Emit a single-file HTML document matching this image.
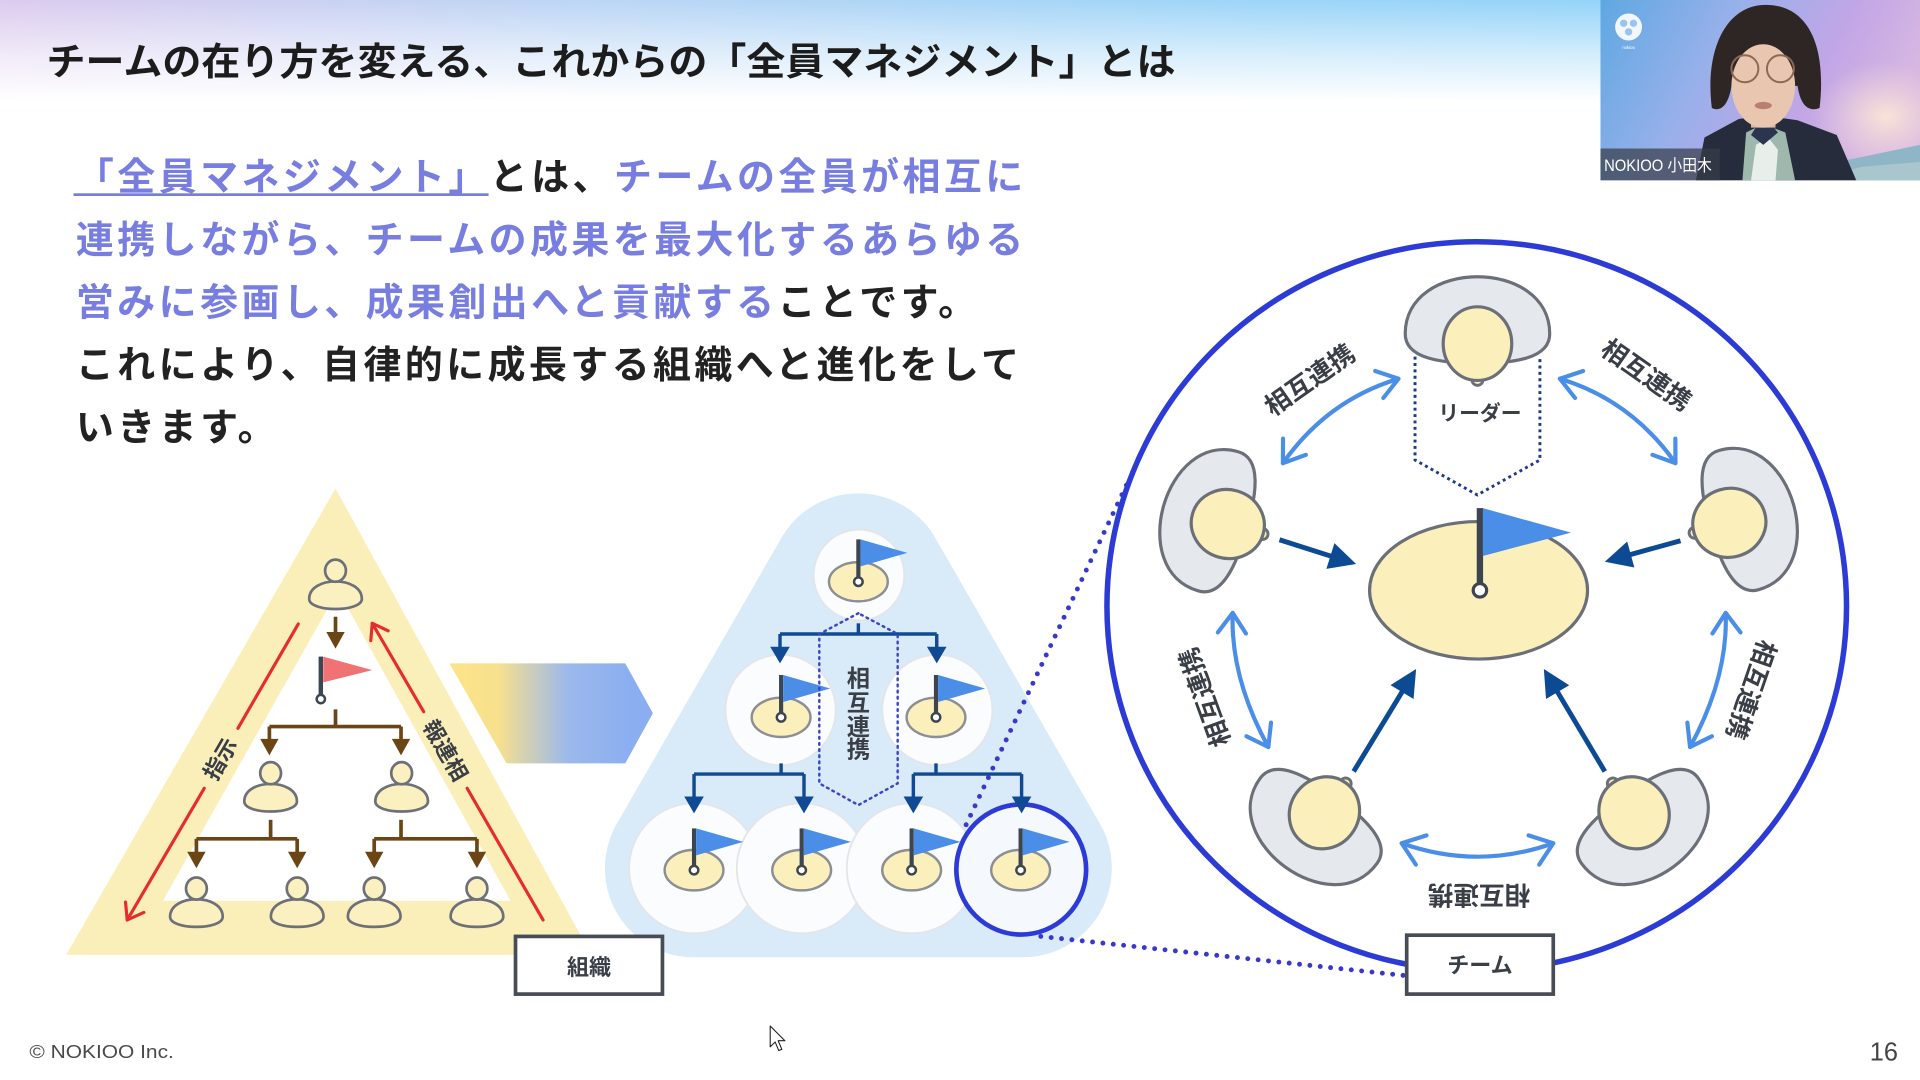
<!DOCTYPE html>
<html><head><meta charset="utf-8">
<style>
html,body{margin:0;padding:0;background:#fff;overflow:hidden;width:1920px;height:1080px}
svg{display:block}
text{font-family:"Liberation Sans","Noto Sans CJK JP",sans-serif}
</style></head>
<body>
<svg xmlns="http://www.w3.org/2000/svg" width="1920" height="1080" viewBox="0 0 1568 880" preserveAspectRatio="none">
<defs>
<linearGradient id="topH" x1="0" y1="0" x2="1" y2="0">
<stop offset="0" stop-color="#dccbee"/><stop offset="0.3" stop-color="#bcd6f5"/><stop offset="0.65" stop-color="#9dd5f8"/><stop offset="1" stop-color="#8cd2f9"/>
</linearGradient>
<linearGradient id="topV" x1="0" y1="0" x2="0" y2="1">
<stop offset="0" stop-color="#fff" stop-opacity="0"/><stop offset="0.5" stop-color="#fff" stop-opacity="0.6"/><stop offset="0.92" stop-color="#fff" stop-opacity="1"/>
</linearGradient>
<linearGradient id="ag" gradientUnits="userSpaceOnUse" x1="380" y1="0" x2="515" y2="0">
<stop offset="0" stop-color="#fbe38a"/><stop offset="0.2" stop-color="#f7e08e"/><stop offset="0.62" stop-color="#9cb9ec"/><stop offset="1" stop-color="#8aaef0"/>
</linearGradient>
<linearGradient id="vbg" x1="0" y1="0" x2="1" y2="0.3">
<stop offset="0" stop-color="#5ea8e2"/><stop offset="0.4" stop-color="#98b0ea"/><stop offset="0.75" stop-color="#c2a6e6"/><stop offset="1" stop-color="#d6b6e2"/>
</linearGradient>
<radialGradient id="glow" cx="0.5" cy="0.5" r="0.5">
<stop offset="0" stop-color="#fbe6d6" stop-opacity="0.95"/><stop offset="1" stop-color="#f2d6dc" stop-opacity="0"/>
</radialGradient>
<clipPath id="vc"><rect x="1307" y="0" width="261" height="147"/></clipPath>
<g id="tp">
<path d="M -59,-8 C -59,-70 59,-70 59,-8 C 59,12 30,16 0,16 C -30,16 -59,12 -59,-8 Z" fill="#e5e8ed" stroke="#6b6f78" stroke-width="2.6"/>
<circle cx="0" cy="29.5" r="4.5" fill="#fbf0bb" stroke="#6b6f78" stroke-width="2.4"/>
<ellipse cx="0" cy="0" rx="28" ry="30" fill="#fbf0bb" stroke="#6b6f78" stroke-width="2.6"/>
</g>
<g id="op">
<path d="M -21.5,3 C -21.5,-16 21.5,-16 21.5,3 C 21.5,14 -21.5,14 -21.5,3 Z" fill="#fbf0bf" stroke="#6d7079" stroke-width="2.2"/>
<ellipse cx="0" cy="-20" rx="8.5" ry="9" fill="#fbf0bf" stroke="#6d7079" stroke-width="2.2"/>
</g>
</defs>

<!-- background -->
<rect x="0" y="0" width="1568" height="880" fill="#ffffff"/>
<rect x="0" y="0" width="1568" height="90" fill="url(#topH)"/>
<rect x="0" y="0" width="1568" height="90" fill="url(#topV)"/>

<!-- title -->
<text x="38" y="61" font-size="31" font-weight="700" fill="#1c1c1c" textLength="922" lengthAdjust="spacingAndGlyphs">チームの在り方を変える、これからの「全員マネジメント」とは</text>

<!-- video -->
<g clip-path="url(#vc)">
<rect x="1307" y="0" width="261" height="147" fill="url(#vbg)"/>
<ellipse cx="1540" cy="95" rx="60" ry="45" fill="url(#glow)"/>
<path d="M1460,147 L1500,132 L1530,126 L1568,118 L1568,147 Z" fill="#8fb6c6"/>
<path d="M1480,147 L1520,136 L1568,132 L1568,147 Z" fill="#a9c6cf"/>
<path d="M1385,147 L1392,112 L1420,97 L1440,94 L1468,98 L1500,110 L1516,147 Z" fill="#262c3c"/>
<path d="M1423,147 L1426,108 L1440,101 L1458,108 L1466,147 Z" fill="#9fb8ae"/>
<path d="M1430,147 L1434,118 L1444,112 L1452,122 L1450,147 Z" fill="#e8eeea"/>
<path d="M1440,94 L1430,110 L1440,118 L1452,108 Z" fill="#2b3550"/>
<path d="M1398,88 C1392,40 1410,4 1442,4 C1476,4 1492,36 1486,88 C1476,92 1470,84 1468,70 L1414,70 C1412,84 1406,92 1398,88 Z" fill="#2e2624"/>
<rect x="1430" y="88" width="20" height="16" fill="#dcb49c"/>
<ellipse cx="1440" cy="70" rx="26" ry="34" fill="#e8c6af"/>
<path d="M1410,52 C1414,24 1466,24 1472,52 C1460,40 1450,36 1440,36 C1428,36 1418,42 1410,52 Z" fill="#2e2624"/>
<circle cx="1425" cy="56" r="11" fill="none" stroke="#8a6a55" stroke-width="1.6"/>
<circle cx="1454" cy="56" r="11" fill="none" stroke="#8a6a55" stroke-width="1.6"/>
<ellipse cx="1440" cy="86" rx="7" ry="3" fill="#b9806f"/>
<circle cx="1330" cy="22" r="11" fill="#ffffff" opacity="0.9"/>
<circle cx="1326" cy="19" r="3" fill="#9ac4ea"/><circle cx="1334" cy="19" r="3" fill="#9ac4ea"/><circle cx="1330" cy="26" r="3" fill="#9ac4ea"/>
<text x="1330" y="40" font-size="3.5" fill="#ffffff" text-anchor="middle">nokioo</text>
<rect x="1307" y="121" width="97.5" height="26" fill="#383d48" opacity="0.72"/>
<text x="1310" y="139.5" font-size="13.5" fill="#ffffff" textLength="88" lengthAdjust="spacingAndGlyphs">NOKIOO 小田木</text>
</g>

<!-- paragraph -->
<g font-size="31" font-weight="700" letter-spacing="2.8">
<text x="62" y="155"><tspan fill="#777ee0">「全員マネジメント」</tspan><tspan fill="#222">とは、</tspan><tspan fill="#777ee0">チームの全員が相互に</tspan></text>
<text x="62" y="206" fill="#777ee0">連携しながら、チームの成果を最大化するあらゆる</text>
<text x="62" y="257"><tspan fill="#777ee0">営みに参画し、成果創出へと貢献する</tspan><tspan fill="#222">ことです。</tspan></text>
<text x="62" y="308" fill="#222">これにより、自律的に成長する組織へと進化をして</text>
<text x="62" y="359" fill="#222">いきます。</text>
</g>
<rect x="60" y="157.5" width="339" height="2.2" fill="#777ee0"/>

<!-- left pyramid -->
<polygon points="274,398 54,778 483,778" fill="#fbefb9"/>
<polygon points="276,481 133,734 417,734" fill="#ffffff"/>
<g stroke="#6b4513" stroke-width="3" fill="none">
<line x1="274" y1="502.5" x2="274" y2="516"/>
<line x1="274" y1="578" x2="274" y2="592"/>
<line x1="220" y1="592" x2="327.5" y2="592"/>
<line x1="220" y1="592" x2="220" y2="603"/>
<line x1="327.5" y1="592" x2="327.5" y2="603"/>
<line x1="221" y1="668" x2="221" y2="683.5"/>
<line x1="160.4" y1="683.5" x2="242.7" y2="683.5"/>
<line x1="160.4" y1="683.5" x2="160.4" y2="695"/>
<line x1="242.7" y1="683.5" x2="242.7" y2="695"/>
<line x1="327.5" y1="668" x2="327.5" y2="683.5"/>
<line x1="305.6" y1="683.5" x2="389.5" y2="683.5"/>
<line x1="305.6" y1="683.5" x2="305.6" y2="695"/>
<line x1="389.5" y1="683.5" x2="389.5" y2="695"/>
</g>
<g fill="#6b4513">
<polygon points="266.5,515 281.5,515 274,528.5"/>
<polygon points="212.5,602 227.5,602 220,615.5"/>
<polygon points="320,602 335,602 327.5,615.5"/>
<polygon points="152.9,694 167.9,694 160.4,707.5"/>
<polygon points="235.2,694 250.2,694 242.7,707.5"/>
<polygon points="298.1,694 313.1,694 305.6,707.5"/>
<polygon points="382,694 397,694 389.5,707.5"/>
</g>
<!-- red flag -->
<rect x="260.2" y="535" width="3.6" height="31" fill="#3d4550"/>
<polygon points="264,535 304,546 264,556" fill="#f07272"/>
<circle cx="262" cy="569.6" r="3.4" fill="#fff" stroke="#3d4550" stroke-width="2"/>
<!-- people -->
<use href="#op" transform="translate(274,485)"/>
<use href="#op" transform="translate(221,650)"/>
<use href="#op" transform="translate(328,650)"/>
<use href="#op" transform="translate(160.4,744)"/>
<use href="#op" transform="translate(242.7,744)"/>
<use href="#op" transform="translate(305.6,744)"/>
<use href="#op" transform="translate(389.5,744)"/>
<!-- red arrows -->
<g stroke="#e52d2d" stroke-width="2.6" fill="none" stroke-linecap="round" stroke-linejoin="round">
<line x1="243.6" y1="508.4" x2="194.3" y2="593.4"/>
<line x1="166.8" y1="642.3" x2="103.9" y2="749.6"/>
<polyline points="117.5,743.5 103.9,749.6 102.5,735"/>
<line x1="443.5" y1="749.6" x2="381.5" y2="642.3"/>
<line x1="346" y1="579.9" x2="304" y2="507.9"/>
<polyline points="302.8,522 304,507.9 317,514"/>
</g>
<text font-size="18" font-weight="700" fill="#3a3f47" text-anchor="middle" transform="translate(180,618.5) rotate(-60)" y="6.3">指示</text>
<text font-size="18" font-weight="700" fill="#3a3f47" text-anchor="middle" transform="translate(363.7,611.5) rotate(60)" y="6.3">報連相</text>

<!-- gradient arrow -->
<polygon points="367,540.5 510.6,540.5 533.2,581.2 510.6,622 413.7,622" fill="url(#ag)"/>

<!-- middle pyramid -->
<polygon points="701,474.5 566.5,707.5 835.5,707.5" fill="#d9eaf8" stroke="#d9eaf8" stroke-width="145" stroke-linejoin="round"/>
<g fill="#fbfcfe" stroke="#e2e5ea" stroke-width="1.5">
<circle cx="701.5" cy="468.5" r="37"/>
<circle cx="637.5" cy="578.5" r="45"/>
<circle cx="765.5" cy="578.5" r="45"/>
<circle cx="566.8" cy="707.5" r="53"/>
<circle cx="654.7" cy="707.5" r="53"/>
<circle cx="744.5" cy="707.5" r="53"/>
</g>
<circle cx="834" cy="708.5" r="53" fill="#f5f8fd" stroke="#2d3bd6" stroke-width="3.8"/>

<!-- navy connectors -->
<g stroke="#0f4a92" stroke-width="2.8" fill="none">
<line x1="701" y1="507.9" x2="701" y2="516.6"/>
<line x1="637" y1="516.6" x2="765" y2="516.6"/>
<line x1="637" y1="516.6" x2="637" y2="528"/>
<line x1="765" y1="516.6" x2="765" y2="528"/>
<line x1="637.9" y1="622" x2="637.9" y2="630.7"/>
<line x1="566.8" y1="630.7" x2="656.6" y2="630.7"/>
<line x1="566.8" y1="630.7" x2="566.8" y2="650"/>
<line x1="656.6" y1="630.7" x2="656.6" y2="650"/>
<line x1="764.4" y1="622" x2="764.4" y2="630.7"/>
<line x1="745.9" y1="630.7" x2="834.3" y2="630.7"/>
<line x1="745.9" y1="630.7" x2="745.9" y2="650"/>
<line x1="834.3" y1="630.7" x2="834.3" y2="650"/>
</g>
<g fill="#0f4a92">
<polygon points="629,527 645,527 637,540.5"/>
<polygon points="757,527 773,527 765,540.5"/>
<polygon points="558.8,649 574.8,649 566.8,662.7"/>
<polygon points="648.6,649 664.6,649 656.6,662.7"/>
<polygon points="737.9,649 753.9,649 745.9,662.7"/>
<polygon points="826.3,649 842.3,649 834.3,662.7"/>
</g>

<!-- node flags -->
<g>
<ellipse cx="701" cy="474" rx="24" ry="16" fill="#fbf0bb" stroke="#8b8e95" stroke-width="2"/>
<rect x="699.3" y="439.5" width="3.4" height="32" fill="#3d4550"/>
<polygon points="702.7,439.5 741,450.5 702.7,461.5" fill="#4a8ee8"/>
<circle cx="701" cy="474" r="3.5" fill="#fff" stroke="#3d4550" stroke-width="2"/>

<ellipse cx="637.9" cy="584.5" rx="24" ry="16" fill="#fbf0bb" stroke="#8b8e95" stroke-width="2"/>
<rect x="636.2" y="550" width="3.4" height="32" fill="#3d4550"/>
<polygon points="639.6,550 678,561 639.6,572" fill="#4a8ee8"/>
<circle cx="637.9" cy="584.5" r="3.5" fill="#fff" stroke="#3d4550" stroke-width="2"/>

<ellipse cx="764.4" cy="584.5" rx="24" ry="16" fill="#fbf0bb" stroke="#8b8e95" stroke-width="2"/>
<rect x="762.7" y="550" width="3.4" height="32" fill="#3d4550"/>
<polygon points="766.1,550 804.5,561 766.1,572" fill="#4a8ee8"/>
<circle cx="764.4" cy="584.5" r="3.5" fill="#fff" stroke="#3d4550" stroke-width="2"/>

<ellipse cx="566.8" cy="709" rx="24" ry="16.5" fill="#fbf0bb" stroke="#8b8e95" stroke-width="2"/>
<rect x="565.1" y="675" width="3.4" height="31.5" fill="#3d4550"/>
<polygon points="568.5,675 607,686 568.5,697" fill="#4a8ee8"/>
<circle cx="566.8" cy="709" r="3.5" fill="#fff" stroke="#3d4550" stroke-width="2"/>

<ellipse cx="654.7" cy="709" rx="24" ry="16.5" fill="#fbf0bb" stroke="#8b8e95" stroke-width="2"/>
<rect x="653" y="675" width="3.4" height="31.5" fill="#3d4550"/>
<polygon points="656.4,675 695,686 656.4,697" fill="#4a8ee8"/>
<circle cx="654.7" cy="709" r="3.5" fill="#fff" stroke="#3d4550" stroke-width="2"/>

<ellipse cx="744.5" cy="709" rx="24" ry="16.5" fill="#fbf0bb" stroke="#8b8e95" stroke-width="2"/>
<rect x="742.8" y="675" width="3.4" height="31.5" fill="#3d4550"/>
<polygon points="746.2,675 784.5,686 746.2,697" fill="#4a8ee8"/>
<circle cx="744.5" cy="709" r="3.5" fill="#fff" stroke="#3d4550" stroke-width="2"/>

<ellipse cx="833.5" cy="709" rx="24" ry="16.5" fill="#fbf0bb" stroke="#8b8e95" stroke-width="2"/>
<rect x="831.8" y="675" width="3.4" height="31.5" fill="#3d4550"/>
<polygon points="835.2,675 873.5,686 835.2,697" fill="#4a8ee8"/>
<circle cx="833.5" cy="709" r="3.5" fill="#fff" stroke="#3d4550" stroke-width="2"/>
</g>

<!-- dotted pentagon (middle) -->
<path d="M701,499.7 L669.1,516.6 L669.1,638.3 L701,656 L733.1,638.3 L733.1,516.6 Z" fill="none" stroke="#3b46c4" stroke-width="2" stroke-dasharray="1.4 3.6" stroke-linecap="round"/>
<g font-size="19" font-weight="700" fill="#3a3f47" text-anchor="middle">
<text x="701" y="559.4">相</text>
<text x="701" y="579.2">互</text>
<text x="701" y="598.7">連</text>
<text x="701" y="617.4">携</text>
</g>

<!-- dotted connectors to big circle -->
<g stroke="#3838cf" stroke-width="4" stroke-dasharray="0 8.5" stroke-linecap="round" fill="none">
<line x1="789" y1="672" x2="921" y2="393"/>
<line x1="850" y1="763" x2="1148" y2="795"/>
</g>

<!-- big circle -->
<ellipse cx="1206" cy="494" rx="302" ry="297" fill="#ffffff" stroke="#2d3bd6" stroke-width="4.5"/>

<!-- center goal -->
<ellipse cx="1207.5" cy="481" rx="89" ry="56" fill="#fbf0bb" stroke="#6b6f78" stroke-width="2.6"/>
<rect x="1206" y="414" width="5.2" height="62" fill="#3d4550"/>
<polygon points="1211,414 1283,434 1211,453" fill="#4a8ee8"/>
<circle cx="1208.6" cy="481" r="5.5" fill="#fff" stroke="#3d4550" stroke-width="2.6"/>

<!-- people top-view -->
<use href="#tp" transform="translate(1206.6,280)"/>
<use href="#tp" transform="translate(1002.7,427) rotate(-74)"/>
<use href="#tp" transform="translate(1412.3,426) rotate(74)"/>
<use href="#tp" transform="translate(1081.6,662.3) rotate(-144)"/>
<use href="#tp" transform="translate(1334.5,662.3) rotate(144)"/>

<!-- leader dotted -->
<path d="M1155.6,290.6 L1155.6,374.8 L1206.5,403.3 L1257.6,374.8 L1257.6,290.6" fill="none" stroke="#1f3c88" stroke-width="2.4" stroke-dasharray="2.4 2.8"/>
<text x="1208.6" y="342.8" font-size="17" font-weight="700" fill="#3a3f47" text-anchor="middle">リーダー</text>

<!-- navy arrows -->
<g stroke="#0d4a94" stroke-width="4" stroke-linecap="butt">
<line x1="1044.9" y1="439.8" x2="1087" y2="453.2"/>
<line x1="1372.4" y1="440.6" x2="1331" y2="452"/>
<line x1="1105.5" y1="628.6" x2="1145.5" y2="563"/>
<line x1="1310.6" y1="628.6" x2="1271.5" y2="563"/>
</g>
<g fill="#0d4a94">
<polygon points="1107.5,459.6 1083.2,463.5 1089.8,442.5"/>
<polygon points="1310.6,457.7 1328.9,441.2 1334.7,462.4"/>
<polygon points="1156.5,545.1 1154.4,569.6 1135.6,558.2"/>
<polygon points="1260.8,545.1 1281.5,558.4 1262.6,569.6"/>
</g>

<!-- light blue double arrows -->
<g stroke="#4a8ee8" stroke-width="3.4" fill="none" stroke-linecap="round" stroke-linejoin="round">
<path d="M1047.7,377.4 Q1084,326 1142.1,308.6"/>
<polyline points="1066.5,370.6 1047.7,377.4 1047.8,357.4"/>
<polyline points="1123.1,302.3 1142.1,308.6 1129.7,324.3"/>
<path d="M1368.3,377.4 Q1332,326 1273.9,308.6"/>
<polyline points="1349.5,370.6 1368.3,377.4 1368.2,357.4"/>
<polyline points="1292.9,302.3 1273.9,308.6 1286.3,324.3"/>
<path d="M1006.7,499.4 Q1004.7,552 1035.8,608.7"/>
<polyline points="994.6,515.3 1006.7,499.4 1017.5,516.2"/>
<polyline points="1038,588.8 1035.8,608.7 1017.9,599.9"/>
<path d="M1409.3,499.4 Q1411.3,552 1380.2,608.7"/>
<polyline points="1421.4,515.3 1409.3,499.4 1398.5,516.2"/>
<polyline points="1378,588.8 1380.2,608.7 1398.1,599.9"/>
<path d="M1144.7,687.1 Q1206.6,709 1268.5,687.1"/>
<polyline points="1156.3,704.5 1144.7,687.1 1165,680.7"/>
<polyline points="1257,704.5 1268.5,687.1 1248.3,680.7"/>
</g>

<!-- mutual labels -->
<g font-size="21" font-weight="700" fill="#3a3f47" text-anchor="middle">
<text transform="translate(1069.6,309.6) rotate(-35)" y="7.3">相互連携</text>
<text transform="translate(1344.5,305.6) rotate(35)" y="7.3">相互連携</text>
<text transform="translate(984,568) rotate(-110)" y="7.3">相互連携</text>
<text transform="translate(1430,562) rotate(109)" y="7.3">相互連携</text>
<text transform="translate(1207.8,729.3) rotate(180)" y="7.3">相互連携</text>
</g>

<!-- boxes -->
<rect x="421" y="763" width="120" height="47" fill="#ffffff" stroke="#474c55" stroke-width="3"/>
<text x="481" y="794.5" font-size="18" font-weight="700" fill="#3a3f47" text-anchor="middle">組織</text>
<rect x="1148.8" y="762" width="119.7" height="48" fill="#ffffff" stroke="#474c55" stroke-width="3"/>
<text x="1208.6" y="793" font-size="18" font-weight="700" fill="#3a3f47" text-anchor="middle">チーム</text>

<!-- footer -->
<text x="24" y="862" font-size="15" fill="#4a4a4a" textLength="118" lengthAdjust="spacingAndGlyphs">© NOKIOO Inc.</text>
<text x="1527" y="864" font-size="21" fill="#444" textLength="23" lengthAdjust="spacingAndGlyphs">16</text>

<!-- cursor -->
<polygon points="629,836 629,853 633,849 636,856 638.5,855 635.5,848 641,848" fill="#ffffff" stroke="#222" stroke-width="0.9" stroke-linejoin="round"/>
</svg>
</body></html>
